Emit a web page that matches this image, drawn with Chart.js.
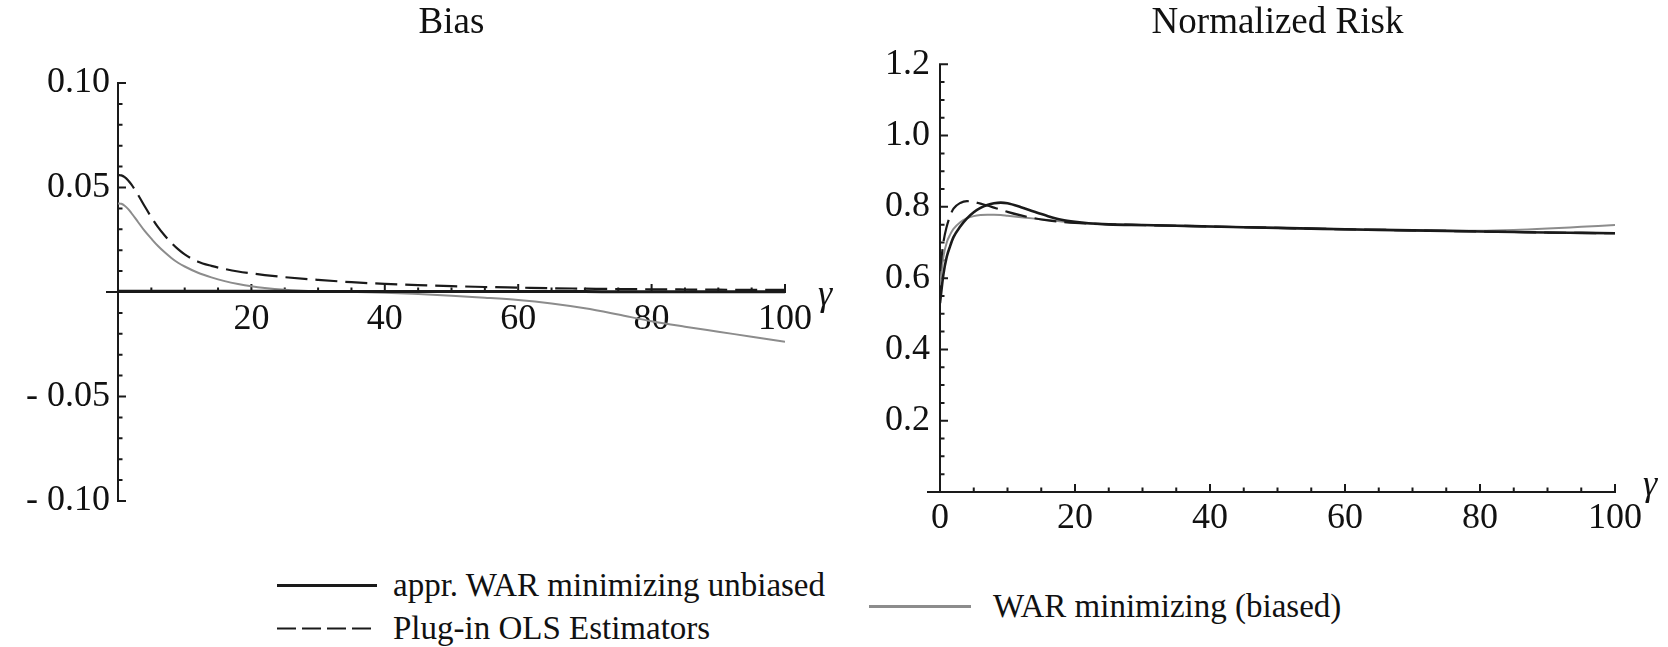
<!DOCTYPE html>
<html>
<head>
<meta charset="utf-8">
<script src="https://cdn.jsdelivr.net/npm/chart.js@4"></script>
<style>
  html, body { margin: 0; padding: 0; background: #fff; }
  #page { position: relative; width: 1668px; height: 647px; overflow: hidden; font-family: 'Liberation Serif'; }
  canvas { position: absolute; top: 0; }
  #biasCanvas { left: 0; }
  #riskCanvas { left: 840px; }
  .lg { position: absolute; display: flex; align-items: center; transform: translateY(-50%);
        font-family: 'Liberation Serif'; font-size: 33px; color: #111; white-space: nowrap; }
  .lg svg { display: block; margin-right: 16px; }
</style>
</head>
<body>
<div id="page">
  <canvas id="biasCanvas" width="840" height="545"></canvas>
  <canvas id="riskCanvas" width="828" height="545"></canvas>
  <div id="legend"></div>
</div>
<script>
(function main() {
// shared gamma grid (x values) for every curve
var gamma = [0, 0.5, 1, 1.5, 2, 3, 4, 5, 6, 7, 8, 9, 10, 12, 14, 16, 18, 20, 22, 25,
             30, 35, 40, 45, 50, 55, 60, 65, 70, 75, 80, 85, 90, 95, 100];

var seriesNames = ["appr. WAR minimizing unbiased", "Plug-in OLS Estimators", "WAR minimizing (biased)"];

// Bias panel
var biasUnbiased = [0.0004, 0.0004, 0.0004, 0.0004, 0.0004, 0.0004, 0.0004, 0.0004, 0.0004, 0.0004, 0.0004, 0.0003, 0.0003, 0.0003, 0.0003, 0.0003, 0.0003, 0.0003, 0.0003, 0.0003,
                    0.0002, 0.0002, 0.0002, 0.0002, 0.0002, 0.0002, 0.0002, 0.0002, 0.0002, 0.0001, 0.0001, 0.0001, 0.0001, 0.0001, 0.0001];
var biasPlugin = [0.056, 0.0558, 0.055, 0.0535, 0.0515, 0.0465, 0.041, 0.0358, 0.031, 0.027, 0.0235, 0.0205, 0.018, 0.0145, 0.0125, 0.011, 0.0098, 0.0089, 0.0081, 0.0071,
                  0.0058, 0.0047, 0.0039, 0.0033, 0.0028, 0.0024, 0.0021, 0.0018, 0.0016, 0.0014, 0.0013, 0.0012, 0.0011, 0.001, 0.001];
var biasBiased = [0.0424, 0.0422, 0.0413, 0.0398, 0.0378, 0.0335, 0.0292, 0.0255, 0.022, 0.019, 0.0163, 0.014, 0.0122, 0.0092, 0.007, 0.0052, 0.0038, 0.0027, 0.0019, 0.0011,
                  0.0004, 0.0001, -0.0003, -0.001, -0.0018, -0.0027, -0.0038, -0.0055, -0.0078, -0.0108, -0.014, -0.0166, -0.019, -0.0214, -0.0238];

// Normalized risk panel
var riskUnbiased = [0.53, 0.61, 0.66, 0.69, 0.715, 0.745, 0.768, 0.785, 0.797, 0.805, 0.81, 0.812, 0.81, 0.799, 0.786, 0.774, 0.764, 0.758, 0.754, 0.751,
                    0.749, 0.747, 0.745, 0.743, 0.741, 0.739, 0.737, 0.7355, 0.734, 0.7325, 0.731, 0.7295, 0.728, 0.727, 0.726];
var riskPlugin = [0.62, 0.70, 0.745, 0.775, 0.795, 0.811, 0.816, 0.814, 0.809, 0.804, 0.798, 0.792, 0.786, 0.776, 0.768, 0.762, 0.758, 0.755, 0.753, 0.751,
                  0.749, 0.747, 0.745, 0.743, 0.741, 0.739, 0.737, 0.7355, 0.734, 0.7325, 0.731, 0.7295, 0.728, 0.727, 0.726];
var riskBiased = [0.58, 0.66, 0.70, 0.722, 0.738, 0.757, 0.768, 0.774, 0.777, 0.778, 0.778, 0.777, 0.775, 0.771, 0.767, 0.763, 0.759, 0.756, 0.753, 0.751,
                  0.749, 0.747, 0.745, 0.743, 0.741, 0.739, 0.737, 0.7355, 0.734, 0.733, 0.733, 0.735, 0.739, 0.744, 0.749];

// tick labels
var biasXTicks = [20, 40, 60, 80, 100];
var biasYTicks = [-0.1, -0.05, 0.05, 0.1];
var biasYLabels = ["- 0.10", "- 0.05", "0.05", "0.10"];
var riskXTicks = [0, 20, 40, 60, 80, 100];
var riskYTicks = [0.2, 0.4, 0.6, 0.8, 1.0, 1.2];
var riskYLabels = ["0.2", "0.4", "0.6", "0.8", "1.0", "1.2"];

var SERIF = "'Liberation Serif'";
var INK = "#1a1a1a";
var TEXT = "#111";
var GREY = "#8c8c8c";

function toPoints(ys) {
    var pts = [];
    for (var i = 0; i < gamma.length; i++) {
        pts.push({ x: gamma[i], y: ys[i] });
    }
    return pts;
}

// Mathematica-like axes: lines through the origin, inward ticks, gamma label
var axesMarks = {
    id: "axesMarks",
    beforeDatasetsDraw: function(chart, args, o) {
        var ctx = chart.ctx, xs = chart.scales.x, ys = chart.scales.y;
        var x0 = xs.getPixelForValue(0), y0 = ys.getPixelForValue(0);
        var xEnd = xs.getPixelForValue(xs.max);
        var i, k, p, len, n;
        ctx.save();
        ctx.strokeStyle = INK;
        ctx.lineWidth = 2;
        ctx.beginPath();
        ctx.moveTo(x0 - o.overhang, y0);
        ctx.lineTo(xEnd + 1, y0);
        ctx.moveTo(x0, ys.getPixelForValue(ys.max) - 1);
        ctx.lineTo(x0, ys.getPixelForValue(ys.min) + 1);
        n = Math.round(xs.max / o.xMinor);
        for (i = 1; i <= n; i++) {
            p = xs.getPixelForValue(i * o.xMinor);
            len = (i * o.xMinor) % o.xMajor === 0 ? o.major : o.minor;
            ctx.moveTo(p, y0);
            ctx.lineTo(p, y0 - len);
        }
        n = Math.round((ys.max - ys.min) / o.yMinor);
        var ratio = Math.round(o.yMajor / o.yMinor);
        var k0 = Math.round(ys.min / o.yMinor);
        for (i = 0; i <= n; i++) {
            k = k0 + i;
            if (k === 0) continue;
            p = ys.getPixelForValue(k * o.yMinor);
            len = Math.abs(k % ratio) === 0 ? o.major : o.minor;
            ctx.moveTo(x0, p);
            ctx.lineTo(x0 + len, p);
        }
        ctx.stroke();
        ctx.fillStyle = TEXT;
        ctx.font = "italic 36px " + SERIF;
        ctx.textAlign = "left";
        ctx.textBaseline = "alphabetic";
        ctx.fillText("\u03b3", xEnd + o.gammaDx, y0 + o.gammaDy);
        ctx.restore();
    }
};

function datasets(a, b, c, w) {
    return [
        { label: seriesNames[0], data: toPoints(a), borderColor: INK, borderWidth: w },
        { label: seriesNames[1], data: toPoints(b), borderColor: INK, borderWidth: 2.2, borderDash: [22, 8] },
        { label: seriesNames[2], data: toPoints(c), borderColor: GREY, borderWidth: 2 }
    ];
}

function tickFont() {
    return { family: SERIF, size: 36, weight: "normal" };
}

function makeChart(id, cfg) {
    return new Chart(document.getElementById(id), {
        type: "line",
        data: { datasets: cfg.datasets },
        plugins: [axesMarks],
        options: {
            responsive: false,
            animation: false,
            events: [],
            font: { family: SERIF },
            elements: {
                point: { radius: 0 },
                line: { cubicInterpolationMode: "monotone", fill: false }
            },
            layout: { padding: cfg.padding },
            plugins: {
                legend: { display: false },
                tooltip: { enabled: false },
                title: {
                    display: true,
                    text: cfg.title,
                    fullSize: false,
                    color: TEXT,
                    font: { family: SERIF, size: 37, weight: "normal" },
                    padding: cfg.titlePadding
                },
                axesMarks: cfg.marks
            },
            scales: {
                x: {
                    type: "linear",
                    min: 0,
                    max: 100,
                    position: { y: 0 },
                    grid: { display: false, drawTicks: false },
                    border: { display: false },
                    afterBuildTicks: function(s) { s.ticks = cfg.xTicks.map(function(v) { return { value: v }; }); },
                    afterFit: function(s) { s.height = 0; },
                    ticks: {
                        autoSkip: false,
                        maxRotation: 0,
                        padding: cfg.xPad,
                        color: TEXT,
                        font: tickFont(),
                        callback: function(v) { return String(v); }
                    }
                },
                y: {
                    type: "linear",
                    min: cfg.yMin,
                    max: cfg.yMax,
                    position: "left",
                    grid: { display: false, drawTicks: false },
                    border: { display: false },
                    afterBuildTicks: function(s) { s.ticks = cfg.yTicks.map(function(v) { return { value: v }; }); },
                    afterFit: function(s) { s.width = cfg.yWidth; },
                    ticks: {
                        autoSkip: false,
                        padding: cfg.yPad,
                        color: TEXT,
                        font: tickFont(),
                        callback: function(v, i) { return cfg.yLabels[i]; }
                    }
                }
            }
        }
    });
}

var charts = [];
charts.push(makeChart("biasCanvas", {
    title: "Bias",
    datasets: datasets(biasUnbiased, biasPlugin, biasBiased, 3),
    padding: { left: 0, right: 55, top: 0, bottom: 44 },
    titlePadding: { top: 1, bottom: 37.6 },
    xTicks: biasXTicks, yTicks: biasYTicks, yLabels: biasYLabels,
    yMin: -0.1, yMax: 0.1, yWidth: 118, xPad: 6, yPad: 8,
    marks: { xMinor: 5, xMajor: 20, yMinor: 0.01, yMajor: 0.05, major: 8, minor: 4.5, overhang: 12, gammaDx: 33, gammaDy: 13 }
}));

charts.push(makeChart("riskCanvas", {
    title: "Normalized Risk",
    datasets: datasets(riskUnbiased, riskPlugin, riskBiased, 2.6),
    padding: { left: 0, right: 53, top: 0, bottom: 53 },
    titlePadding: { top: 1, bottom: 18.9 },
    xTicks: riskXTicks, yTicks: riskYTicks, yLabels: riskYLabels,
    yMin: 0, yMax: 1.2, yWidth: 100, xPad: 5, yPad: 10,
    marks: { xMinor: 5, xMajor: 20, yMinor: 0.05, yMajor: 0.2, major: 8, minor: 4.5, overhang: 13, gammaDx: 28, gammaDy: 3 }
}));

// legend: two rows on the left, grey entry on the right
var legendSpots = [
    { left: 277, top: 585, color: INK, width: 3, dash: "" },
    { left: 277, top: 628, color: INK, width: 2.2, dash: "19 6" },
    { left: 869, top: 606, color: GREY, width: 3, dash: "" }
];
var legendDiv = document.getElementById("legend");
for (var i = 0; i < seriesNames.length; i++) {
    var spot = legendSpots[i];
    var item = document.createElement("div");
    item.className = "lg";
    item.style.left = spot.left + "px";
    item.style.top = spot.top + "px";
    var sampleW = i === 2 ? 102 : 100;
    item.innerHTML = '<svg width="' + sampleW + '" height="8"><line x1="0" y1="4" x2="' + sampleW + '" y2="4" stroke="' + spot.color +
        '" stroke-width="' + spot.width + '"' + (spot.dash ? ' stroke-dasharray="' + spot.dash + '"' : '') + '/></svg>';
    var label = document.createElement("span");
    label.textContent = seriesNames[i];
    if (i === 2) label.style.marginLeft = "6px";
    item.appendChild(label);
    legendDiv.appendChild(item);
}

// redraw once the serif face is surely available
if (document.fonts && document.fonts.load) {
    document.fonts.load("36px 'Liberation Serif'").then(function() {
        charts.forEach(function(c) { c.update(); });
    });
}
})();
</script>
</body>
</html>
